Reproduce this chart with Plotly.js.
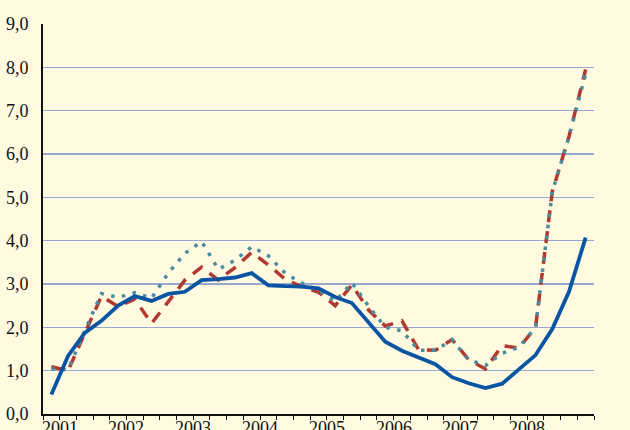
<!DOCTYPE html>
<html><head><meta charset="utf-8">
<script src="https://cdn.plot.ly/plotly-3.0.1.min.js"></script>
<style>html,body{margin:0;padding:0;background:#FFFAE0;} #chart{width:630px;height:430px;}</style>
</head><body><div id="chart"></div>
<script>
const quarters = ['2001 Q2','2001 Q3','2001 Q4',
  '2002 Q1','2002 Q2','2002 Q3','2002 Q4',
  '2003 Q1','2003 Q2','2003 Q3','2003 Q4',
  '2004 Q1','2004 Q2','2004 Q3','2004 Q4',
  '2005 Q1','2005 Q2','2005 Q3','2005 Q4',
  '2006 Q1','2006 Q2','2006 Q3','2006 Q4',
  '2007 Q1','2007 Q2','2007 Q3','2007 Q4',
  '2008 Q1','2008 Q2','2008 Q3','2008 Q4',
  '2009 Q1','2009 Q2'];
const yearLabels = ['2001','2002','2003','2004','2005','2006','2007','2008'];
const seriesSolid = [0.45, 1.34, 1.87, 2.15, 2.50, 2.72, 2.61, 2.77, 2.82, 3.09, 3.11, 3.15, 3.25, 2.97, 2.95, 2.94, 2.90, 2.70, 2.56, 2.10, 1.67, 1.46, 1.31, 1.15, 0.85, 0.71, 0.60, 0.70, 1.03, 1.36, 1.96, 2.82, 4.07];
const seriesDash  = [1.09, 1.00, 1.86, 2.72, 2.48, 2.65, 2.09, 2.59, 3.09, 3.39, 3.09, 3.38, 3.73, 3.44, 3.11, 2.94, 2.81, 2.50, 2.98, 2.40, 2.03, 2.15, 1.48, 1.47, 1.72, 1.25, 1.04, 1.58, 1.52, 2.00, 5.13, 6.40, 7.95];
const seriesDot   = [1.04, 1.02, 1.92, 2.78, 2.69, 2.80, 2.67, 3.25, 3.71, 3.98, 3.34, 3.55, 3.86, 3.65, 3.25, 3.02, 2.85, 2.60, 3.03, 2.49, 2.00, 1.92, 1.47, 1.47, 1.71, 1.25, 1.12, 1.40, 1.54, 2.00, 5.13, 6.40, 7.85];

const xs = quarters.map((q, i) => i);
const labelPos = yearLabels.map(y => quarters.indexOf(y + ' Q2') + 0.5);
const yearBounds = [-0.5].concat(quarters.map((q, i) => q.endsWith('Q1') ? i - 0.5 : null).filter(v => v !== null));
const xr = [-0.5, quarters.length - 0.5];
const bg = '#FFFAE0';
const font = {family: 'Times New Roman, Liberation Serif, serif', size: 18, color: '#111111'};

const traces = [
  {x: xs, y: seriesDash, type: 'scatter', mode: 'lines', hoverinfo: 'skip',
   line: {color: '#B2392F', width: 3.5, dash: '12px,9px'}},
  {x: xs, y: seriesDot, type: 'scatter', mode: 'lines', hoverinfo: 'skip',
   line: {color: '#4A8CA0', width: 3.5, dash: '3.5px,7.5px'}},
  {x: xs, y: seriesSolid, type: 'scatter', mode: 'lines', hoverinfo: 'skip',
   line: {color: '#0A55A3', width: 3.8}}
];

const annotations = yearLabels.map((t, i) => ({
  text: t, x: labelPos[i], xref: 'x', y: 0, yref: 'paper',
  xanchor: 'center', yanchor: 'top', yshift: -3, showarrow: false,
  font: font, borderpad: 0
}));

const layout = {
  width: 630, height: 430,
  margin: {l: 43, r: 36, t: 24, b: 16},
  paper_bgcolor: bg, plot_bgcolor: bg,
  showlegend: false,
  separators: ',.',
  font: font,
  annotations: annotations,
  xaxis: {
    range: xr, showgrid: false, zeroline: false,
    showline: true, linecolor: '#111', linewidth: 2,
    tickmode: 'array', tickvals: labelPos, ticktext: yearLabels,
    ticks: '', showticklabels: false,
    minor: {tickmode: 'linear', tick0: -0.5, dtick: 1, ticks: 'outside', ticklen: 4, tickcolor: '#111', tickwidth: 1, showgrid: false}
  },
  xaxis2: {
    range: xr, overlaying: 'x', anchor: 'y', side: 'bottom',
    showgrid: false, zeroline: false, showline: false,
    tickmode: 'array', tickvals: yearBounds, ticks: 'outside', ticklen: 8,
    tickcolor: '#111', tickwidth: 1, showticklabels: false
  },
  yaxis: {
    range: [0, 9], dtick: 1, tick0: 0, tickformat: '.1f',
    showgrid: true, gridcolor: '#98A9CF', gridwidth: 1.3,
    zeroline: false, showline: true, linecolor: '#111', linewidth: 2,
    ticks: '', tickfont: font, ticklabelstandoff: 9
  },
  yaxis2: {
    range: [0, 9], dtick: 1, tick0: 0, tickformat: '.1f',
    overlaying: 'y', side: 'right', anchor: 'x',
    showgrid: false, zeroline: false, showline: true, linecolor: '#111', linewidth: 2,
    ticks: '', tickfont: font, ticklabelstandoff: 7
  }
};

Plotly.newPlot('chart', traces, layout, {staticPlot: true, displayModeBar: false});
</script>
</body></html>
